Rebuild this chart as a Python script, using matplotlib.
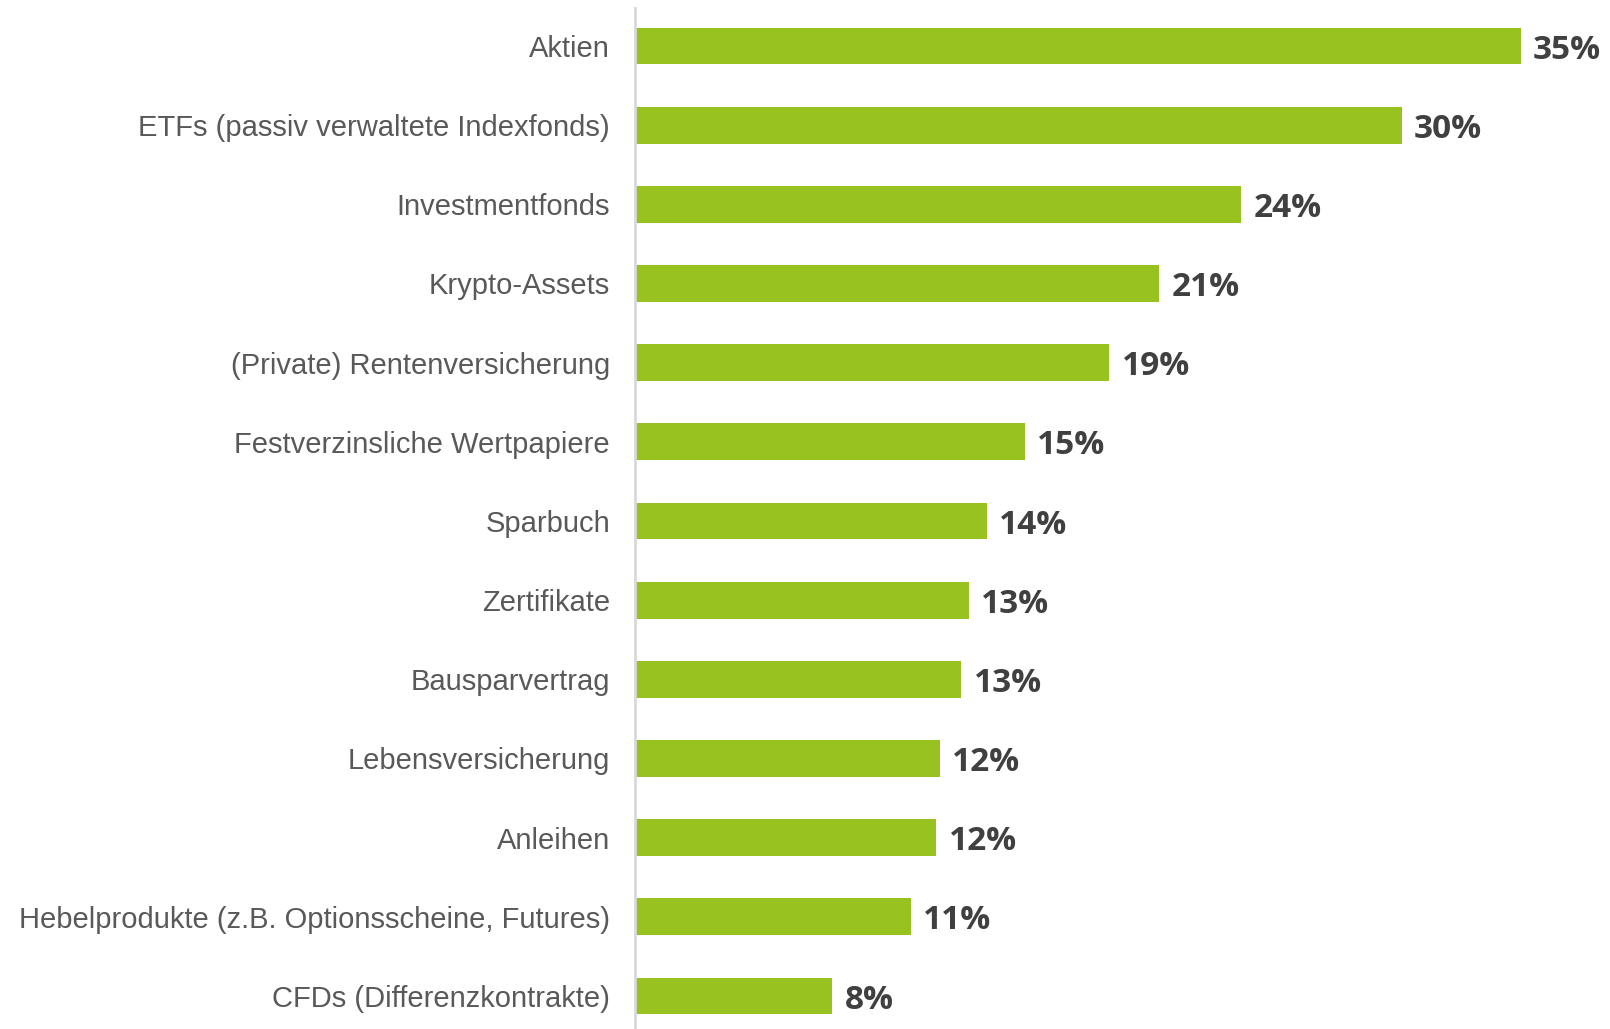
import matplotlib
matplotlib.use("Agg")
import matplotlib.pyplot as plt

# Kategorien und Werte (in Prozent)
kategorien = [
    "Aktien",
    "ETFs (passiv verwaltete Indexfonds)",
    "Investmentfonds",
    "Krypto-Assets",
    "(Private) Rentenversicherung",
    "Festverzinsliche Wertpapiere",
    "Sparbuch",
    "Zertifikate",
    "Bausparvertrag",
    "Lebensversicherung",
    "Anleihen",
    "Hebelprodukte (z.B. Optionsscheine, Futures)",
    "CFDs (Differenzkontrakte)",
]
werte = [35.0, 30.3, 23.95, 20.7, 18.75, 15.4, 13.9, 13.2, 12.9, 12.05, 11.9, 10.9, 7.8]
beschriftung = ["35%", "30%", "24%", "21%", "19%", "15%", "14%", "13%", "13%",
                "12%", "12%", "11%", "8%"]

gruen = "#97c21f"
grau_text = "#595959"
dunkel = "#404040"

fig = plt.figure(figsize=(16.1, 10.29), dpi=100)
fig.patch.set_facecolor("white")
ax = fig.add_axes([635 / 1610, 0, 1 - 635 / 1610, 1 - 8 / 1029])

y = list(range(len(kategorien)))
ax.barh(y, werte, height=0.467, color=gruen, edgecolor="none")

ax.set_ylim(12.417, -0.48)
ax.set_xlim(0, 975 / 25.3)

# Werte rechts neben den Balken
for yi, w, txt in zip(y, werte, beschriftung):
    ax.annotate(txt, (w, yi), xytext=(9, -3), textcoords="offset points",
                va="center", ha="left", fontsize=24, fontweight="bold",
                family=["Open Sans", "DejaVu Sans"], color=dunkel)

ax.set_yticks(y)
ax.set_yticklabels(kategorien, fontsize=21, family=["Liberation Sans", "DejaVu Sans"],
                   color=grau_text)
ax.tick_params(axis="y", length=0, pad=18)
ax.set_xticks([])

for s in ["top", "right", "bottom"]:
    ax.spines[s].set_visible(False)
ax.spines["left"].set_color("#d9d9d9")
ax.spines["left"].set_linewidth(2)

fig.savefig("out.png", dpi=100, facecolor="white")
